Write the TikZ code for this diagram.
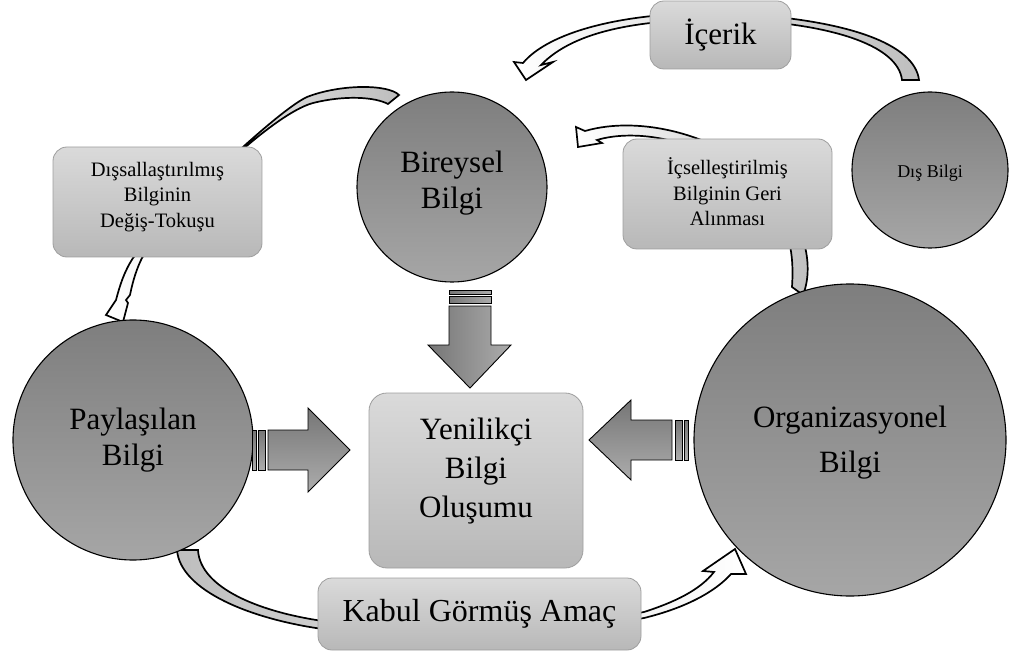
\documentclass[tikz,border=0pt]{standalone}
\usepackage{fontspec}
\setmainfont{Liberation Serif}
\definecolor{discA}{RGB}{126,126,126}
\definecolor{discB}{RGB}{166,166,166}
\definecolor{boxA}{RGB}{218,218,218}
\definecolor{boxB}{RGB}{184,184,184}
\definecolor{boxline}{RGB}{158,158,158}
\definecolor{tailgray}{RGB}{190,190,190}
\definecolor{blkA}{RGB}{118,118,118}
\definecolor{blkB}{RGB}{172,172,172}
\begin{document}
\begin{tikzpicture}[x=1pt,y=-1pt,
  disc/.style={circle, draw=black, line width=1.1, top color=discA, bottom color=discB, inner sep=0},
  pill/.style={draw=boxline, line width=0.8, rounded corners=14, top color=boxA, bottom color=boxB, inner sep=0},
  flow/.style={draw=black, line width=1.7, line join=miter, left color=white, right color=tailgray},
  blk/.style={draw=black, line width=0.9, left color=blkA, right color=blkB},
  lbig/.style={font=\fontsize{31}{36}\selectfont, align=center, inner sep=0},
  lsmall/.style={font=\fontsize{20.5}{25.5}\selectfont, align=center, inner sep=0}]
\useasboundingbox (0,0) rectangle (1023,655);

% ---- curved cycle arrows (drawn first, partly hidden by the boxes) ----
% outer knowledge -> individual knowledge, behind "Icerik"
\path[flow] (902,80) -- (919,80)
  .. controls (915,45) and (850,18) .. (720,13)
  .. controls (620,12) and (548,33) .. (523,63)
  -- (514,62) -- (526,80) -- (553,62) -- (541,65)
  .. controls (575,30) and (640,20) .. (720,19)
  .. controls (830,22) and (898,45) .. (902,80) -- cycle;
% individual knowledge -> shared knowledge
\path[flow] (388,104) -- (399,95)
  .. controls (388,84) and (340,84) .. (307,97)
  .. controls (278,110) and (175,208) .. (133,258)
  .. controls (124,272) and (120,285) .. (116,300)
  -- (106,315) -- (123,322) -- (128,303) -- (126,300) -- (130,295)
  .. controls (133,280) and (137,268) .. (142,258)
  .. controls (178,205) and (272,114) .. (313,103)
  .. controls (345,95) and (375,97) .. (388,104) -- cycle;
% organisational knowledge -> individual knowledge
\path[flow] (792,287) -- (803,295)
  .. controls (815,265) and (805,215) .. (760,175)
  .. controls (715,135) and (640,115) .. (585,131)
  -- (576,127) -- (578,147) -- (602,143) -- (597,140)
  .. controls (630,130) and (690,135) .. (740,175)
  .. controls (785,212) and (795,240) .. (792,287) -- cycle;
% shared knowledge -> organisational knowledge
\path[flow, left color=tailgray, right color=white] (198,550) -- (177,550)
  .. controls (180,590) and (250,620) .. (330,630)
  .. controls (450,642) and (570,632) .. (644,618)
  .. controls (685,608) and (715,592) .. (731,574)
  -- (746,574) -- (735,549) -- (703,571) -- (714,572)
  .. controls (700,590) and (675,602) .. (644,612)
  .. controls (570,626) and (450,634) .. (330,622)
  .. controls (260,613) and (200,588) .. (198,550) -- cycle;

% ---- knowledge discs ----
\node[disc, minimum size=190] (bir) at (452,187) {};
\node[disc, minimum size=156] (dis) at (930,170) {};
\node[disc, minimum size=240] (pay) at (133,440) {};
\node[disc, minimum size=312] (org) at (850,440) {};

\node[lbig] (birT) at (452,183) {Bireysel\\Bilgi};
\node[font=\fontsize{18}{22}\selectfont, inner sep=0] (disT) at (930,173) {Dış Bilgi};
\node[lbig] (payT) at (133,440) {Paylaşılan\\Bilgi};
\node[lbig, font=\fontsize{31}{45}\selectfont] (orgT) at (850,443) {Organizasyonel\\Bilgi};

% ---- rounded label boxes ----
\node[pill, minimum width=141, minimum height=68] (ice) at (720.5,35) {};
\node[lbig] at (ice.center) {İçerik};
\node[pill, minimum width=209, minimum height=110] (dsl) at (157.5,202) {};
\node[lsmall] at (157.5,197) {Dışsallaştırılmış\\Bilginin\\Değiş-Tokuşu};
\node[pill, minimum width=209, minimum height=110] (icl) at (727.5,194) {};
\node[lsmall] at (727.5,192) {İçselleştirilmiş\\Bilginin Geri\\Alınması};
\node[pill, rounded corners=18, minimum width=214, minimum height=175] (yen) at (476,480.5) {};
\node[lbig, font=\fontsize{31}{39}\selectfont] at (476,471) {Yenilikçi\\Bilgi\\Oluşumu};
\node[pill, minimum width=323, minimum height=72] (kab) at (479.5,614) {};
\node[lbig, font=\fontsize{32}{36}\selectfont] at (kab.center) {Kabul Görmüş Amaç};

% ---- striped block arrows into the centre ----
% from individual knowledge (down)
\path[blk] (449,290) rectangle (491,294);
\path[blk] (449,296) rectangle (491,303);
\path[blk] (449,306) -- (491,306) -- (491,345) -- (511,345) -- (470,388)
  -- (428,345) -- (449,345) -- cycle;
% from shared knowledge (right)
\path[blk, top color=blkA, bottom color=blkB] (252,430) rectangle (256,470);
\path[blk, top color=blkA, bottom color=blkB] (258,430) rectangle (265,470);
\path[blk, top color=blkA, bottom color=blkB] (268,430) -- (308,430) -- (308,408)
  -- (350,450) -- (308,492) -- (308,470) -- (268,470) -- cycle;
% from organisational knowledge (left)
\path[blk, top color=blkA, bottom color=blkB] (688,420) rectangle (684,460);
\path[blk, top color=blkA, bottom color=blkB] (682,420) rectangle (675,460);
\path[blk, top color=blkA, bottom color=blkB] (672,420) -- (631,420) -- (631,400)
  -- (589,440) -- (631,480) -- (631,460) -- (672,460) -- cycle;
\end{tikzpicture}
\end{document}
